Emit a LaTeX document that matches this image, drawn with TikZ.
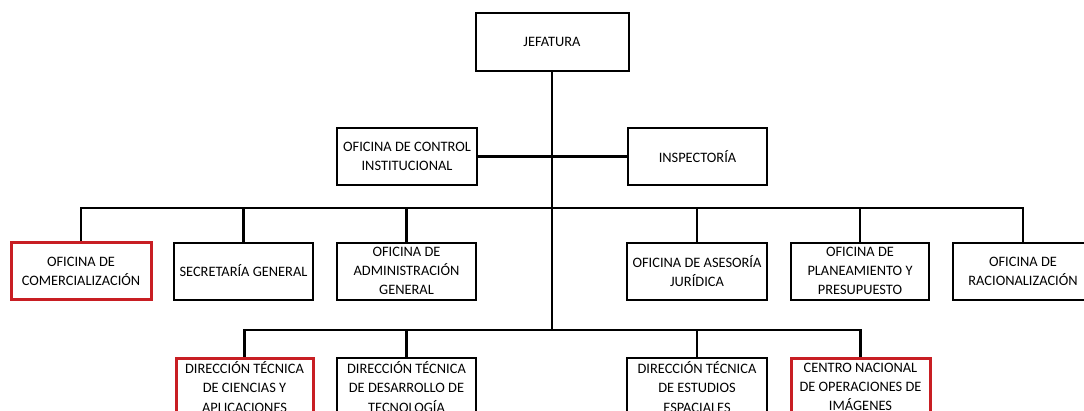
\documentclass[tikz,border=0pt]{standalone}
\usepackage{fontspec}
\usepackage{tikz}
\setmainfont{Carlito}
\definecolor{rojo}{RGB}{200,30,35}

\tikzset{
  caja/.style={draw, line width=2, fill=white, align=center, inner sep=2,
    font=\fontsize{14.4}{19.2}\selectfont},
  cajaroja/.style={caja, draw=rojo, line width=3},
  linea/.style={line width=2.1}
}

\begin{document}
\begin{tikzpicture}[x=1pt, y=-1pt]
    \useasboundingbox (0, 0) rectangle (1084, 410);
    \clip (0, 0) rectangle (1084, 410);

    \node[caja, minimum width=153, minimum height=58] (jefatura) at (552, 42) {JEFATURA};
    \node[caja, minimum width=140, minimum height=57] (control) at (407, 156.5) {OFICINA DE CONTROL\\INSTITUCIONAL};
    \node[caja, minimum width=139, minimum height=57] (inspectoria) at (697.5, 156.5) {INSPECTORÍA};

    \node[cajaroja, minimum width=140, minimum height=57] (comercializacion) at (81, 271) {OFICINA DE\\COMERCIALIZACIÓN};
    \node[caja, minimum width=139, minimum height=57] (secretaria) at (243.5, 271) {SECRETARÍA GENERAL};
    \node[caja, minimum width=139, minimum height=57] (administracion) at (406.5, 271) {OFICINA DE\\ADMINISTRACIÓN\\GENERAL};
    \node[caja, minimum width=140, minimum height=57] (asesoria) at (697, 271) {OFICINA DE ASESORÍA\\JURÍDICA};
    \node[caja, minimum width=138, minimum height=57] (planeamiento) at (860, 271) {OFICINA DE\\PLANEAMIENTO Y\\PRESUPUESTO};
    \node[caja, minimum width=140, minimum height=57] (racionalizacion) at (1023, 271) {OFICINA DE\\RACIONALIZACIÓN};

    \node[cajaroja, minimum width=137, minimum height=58] (ciencias) at (244.5, 387) {DIRECCIÓN TÉCNICA\\DE CIENCIAS Y\\APLICACIONES};
    \node[caja, minimum width=139, minimum height=58] (desarrollo) at (406.5, 387) {DIRECCIÓN TÉCNICA\\DE DESARROLLO DE\\TECNOLOGÍA};
    \node[caja, minimum width=140, minimum height=58] (estudios) at (697, 387) {DIRECCIÓN TÉCNICA\\DE ESTUDIOS\\ESPACIALES};
    \node[cajaroja, minimum width=139, minimum height=58] (centro) at (860.5, 387) {CENTRO NACIONAL\\DE OPERACIONES DE\\IMÁGENES};

    \coordinate (bus2) at (552, 208);
    \coordinate (bus3) at (552, 330);

    \draw[linea] (jefatura.south) -- (bus3);
    \draw[linea] (control.east) -- (inspectoria.west);

    \draw[linea] (comercializacion.north) |- (bus2) -| (racionalizacion.north);
    \foreach \n in {secretaria, administracion, asesoria, planeamiento}
      \draw[linea] (\n.north) -- (\n.north |- bus2);

    \draw[linea] (ciencias.north) |- (bus3) -| (centro.north);
    \foreach \n in {desarrollo, estudios}
      \draw[linea] (\n.north) -- (\n.north |- bus3);
\end{tikzpicture}
\end{document}
